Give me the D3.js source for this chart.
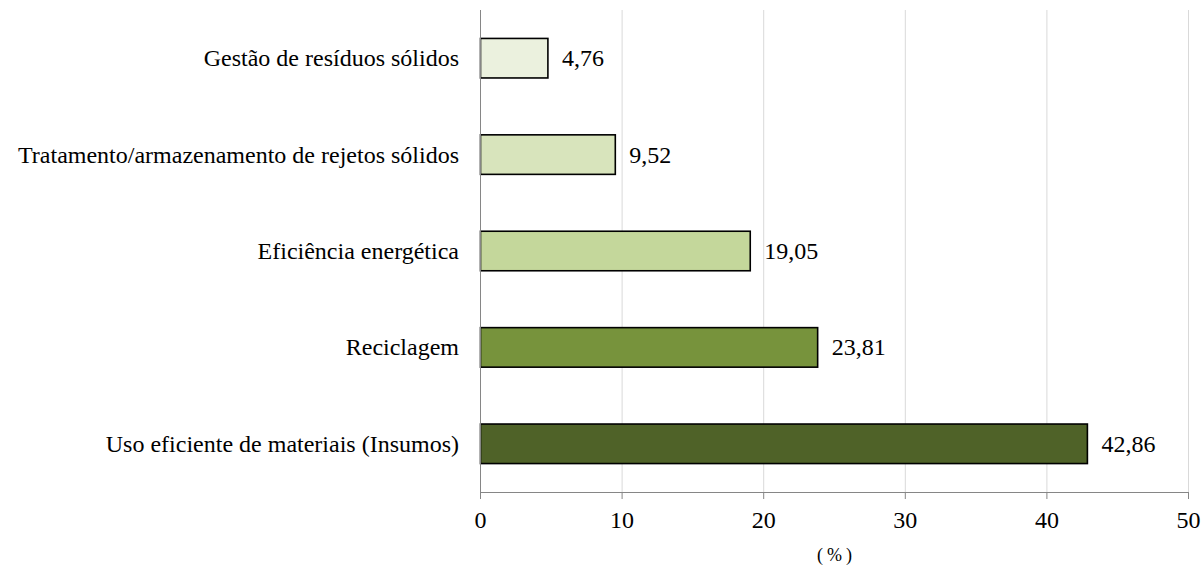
<!DOCTYPE html>
<html><head><meta charset="utf-8">
<script src="https://cdn.jsdelivr.net/npm/d3@7"></script>
<style>body{margin:0;background:#fff}svg{display:block}svg text{font-family:'Liberation Serif','Times New Roman',serif}</style>
</head><body>
<svg id="c" width="1203" height="566"></svg>
<script>
const categories = ["Gestão de resíduos sólidos","Tratamento/armazenamento de rejetos sólidos","Eficiência energética","Reciclagem","Uso eficiente de materiais (Insumos)"];
const values = [4.76, 9.52, 19.05, 23.81, 42.86];
const labels = ["4,76","9,52","19,05","23,81","42,86"];
const colors = ["#EBF1DE","#D8E4BC","#C4D79B","#77933C","#4F6228"];
const ticks = [0,10,20,30,40,50];
const axisTitle = "(%)";

const svg = d3.select("#c");
const x = d3.scaleLinear().domain([0,50]).range([480.5,1188.5]);
const y = d3.scaleBand().domain(categories).range([10,492]).paddingInner(0.59).paddingOuter(0.295);

svg.append("g").selectAll("line").data(ticks.slice(1)).join("line")
  .attr("x1",d=>x(d)).attr("x2",d=>x(d)).attr("y1",10).attr("y2",492)
  .attr("stroke","#d9d9d9").attr("stroke-width",1);

svg.append("g").selectAll("rect").data(categories).join("rect")
  .attr("x",x(0)).attr("y",d=>y(d)).attr("width",(d,i)=>x(values[i])-x(0)).attr("height",y.bandwidth())
  .attr("fill",(d,i)=>colors[i]).attr("stroke","#000").attr("stroke-width",1.6);

svg.append("line").attr("x1",x(0)).attr("x2",x(0)).attr("y1",10).attr("y2",492).attr("stroke","#868686");
svg.append("line").attr("x1",x(0)).attr("x2",x(50)).attr("y1",492.5).attr("y2",492.5).attr("stroke","#868686");
svg.append("g").selectAll("line").data(ticks).join("line")
  .attr("x1",d=>x(d)).attr("x2",d=>x(d)).attr("y1",492).attr("y2",499).attr("stroke","#868686");

svg.append("g").selectAll("text").data(ticks).join("text")
  .attr("x",d=>x(d)).attr("y",528).attr("text-anchor","middle").style("font-size","24px").attr("fill","#000").text(d=>d);

svg.append("g").selectAll("text").data(categories).join("text")
  .attr("x",459).attr("y",d=>y(d)+y.bandwidth()/2).attr("dy","0.33em").attr("text-anchor","end")
  .style("font-size","24px").attr("fill","#000").text(d=>d);

svg.append("g").selectAll("text").data(categories).join("text")
  .attr("x",(d,i)=>x(values[i])+14).attr("y",d=>y(d)+y.bandwidth()/2).attr("dy","0.33em")
  .style("font-size","24px").attr("fill","#000").text((d,i)=>labels[i]);

svg.append("text").attr("x",x(25)+2).attr("y",561).attr("text-anchor","middle").style("font-size","18px")
  .attr("letter-spacing",4).text(axisTitle);
</script>
</body></html>
